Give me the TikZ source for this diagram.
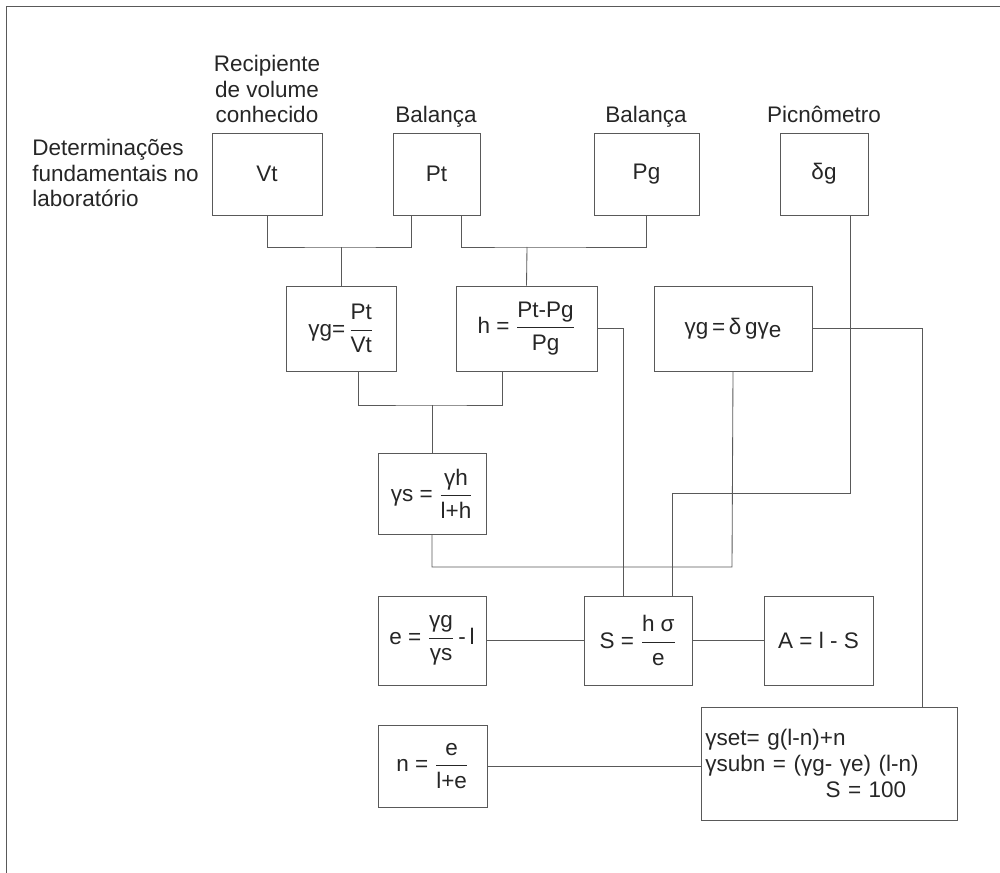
\documentclass[tikz,border=0pt]{standalone}
\usepackage{fontspec}
\setmainfont{Liberation Sans}
\usetikzlibrary{calc}

\newcommand{\fr}[2]{$\displaystyle\frac{\mbox{#1}}{\mbox{#2}}$}

\begin{document}
\begin{tikzpicture}[x=0.025cm,y=-0.025cm,
  every node/.style={font=\fontsize{16}{18.3}\selectfont,text=black!85},
  box/.style 2 args={draw=black!65,line width=0.6pt,inner sep=1pt,minimum width=#1*0.025cm,minimum height=#2*0.025cm},
  wire/.style={draw=black!65,line width=0.6pt},
  lbl/.style={inner sep=0pt}]
\useasboundingbox (0,0) rectangle (1000,873);
\draw[wire] (6,873) -- (6,6) -- (1000,6);
% labels
\node[lbl,align=center,anchor=base] (rec) at (267,123) {Recipiente\\de volume\\conhecido};
\node[lbl,anchor=base] (bal1) at (436,123) {Balança};
\node[lbl,anchor=base] (bal2) at (646,123) {Balança};
\node[lbl,anchor=base] (pic) at (824,123) {Picnômetro};
\node[lbl,align=left,anchor=base west] (det) at (32,207) {Determinações\\fundamentais no\\laboratório};
% boxes
\node[box={110}{82}] (vt) at (267,174) {Vt};
\node[box={87}{82}] (pt) at (436.5,174) {Pt};
\node[box={105}{82}] (pg) at (646.5,174) {Pg};
\node[box={88}{82}] (dg) at (824,174) {δg};
\node[box={110}{85}] (gg) at (341,328.5) {γg=\,\fr{Pt}{Vt}};
\node[box={141}{85}] (hh) at (526.5,328.5) {h = \fr{Pt-Pg}{Pg}};
\node[box={158}{85}] (ge) at (733,328.5) {γg\,=\,δ\,gγ\raisebox{-0.15em}{e}};
\node[box={108}{81}] (gs) at (432,493.5) {γs = \fr{γh}{l+h}};
\node[box={108}{89}] (ee) at (432,640.5) {e = \fr{γg}{γs}\,-\,l};
\node[box={108}{89}] (ss) at (638,640.5) {S = \fr{h σ}{e}};
\node[box={109}{89}] (aa) at (818.5,640.5) {A = l - S};
\node[box={109}{82}] (nn) at (432.5,766) {n = \fr{e}{l+e}};
\node[box={255}{113},text width=6.2cm,align=left,inner xsep=0.1cm] (st) at (829.5,763.5)
  {γset= g(l-n)+n\\γsubn = (γg- γe) (l-n)\\\hspace*{3cm}S = 100};
% connectors
\coordinate (j1) at (341,247);
\draw[wire] (vt.south) |- (j1) -| ($(pt.south)+(-25,0)$);
\draw[wire] (j1) -- (gg.north);
\coordinate (j2) at (527,247);
\draw[wire] ($(pt.south)+(25,0)$) |- (j2) -| (pg.south);
\draw[wire] (j2) -- (hh.north);
\coordinate (j3) at (432,405);
\draw[wire] ($(gg.south)+(17,0)$) |- (j3) -| ($(hh.south)+(-24.5,0)$);
\draw[wire] (j3) -- (gs.north);
\coordinate (j4) at (732,567);
\draw[wire] (gs.south) |- (j4) -- (ge.south);
\coordinate (j5) at (672,493);
\draw[wire] ($(dg.south)+(26,0)$) |- (j5) -- (ss.north -| j5);
\draw[wire] (hh.east) -| ($(ss.north)+(-15,0)$);
\draw[wire] (ge.east) -| ($(st.north)+(92.5,0)$);
\draw[wire] (ee) -- (ss);
\draw[wire] (ss) -- (aa);
\draw[wire] (nn.east) -- (nn.east -| st.west);
\end{tikzpicture}
\end{document}
